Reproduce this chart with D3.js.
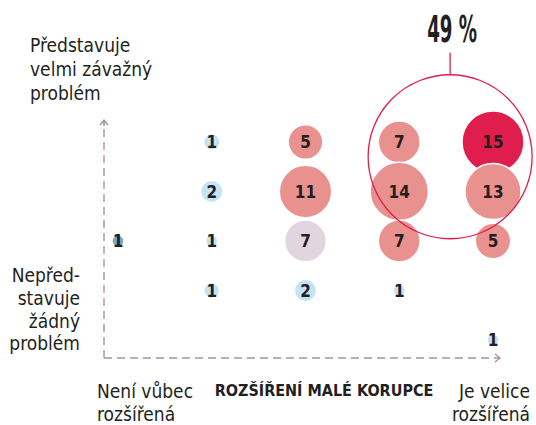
<!DOCTYPE html>
<html>
<head>
<meta charset="utf-8">
<script src="https://cdn.jsdelivr.net/npm/d3@7"></script>
<style>
  body { margin: 0; background: #fff; }
  svg text { font-family: "Liberation Sans Narrow", "DejaVu Sans Condensed", sans-serif; fill: #231f20; }
  .lbl { font-size: 19px; }
  .num { font-size: 17px; font-weight: bold; }
</style>
</head>
<body>
<div id="chart"></div>
<script>
// rozšíření malé korupce (x: 1..5) vs. závažnost problému (y: 1..5)
var spread   = [2, 3, 4, 5,   2, 3, 4, 5,   1, 2, 3, 4, 5,   2, 3, 4,   5];
var severity = [5, 5, 5, 5,   4, 4, 4, 4,   3, 3, 3, 3, 3,   2, 2, 2,   1];
// share in % (labels are rounded)
var shares   = [1.1, 4.8, 7, 15.4,   2, 11, 13.6, 12.6,   0.6, 0.6, 7, 7, 5,   1, 2, 0.6,   0.6];
var tones    = ["blue", "pink", "pink", "red",
                "blue", "pink", "pink", "pink",
                "dark", "blue", "grey", "pink", "pink",
                "blue", "blue", "blue",
                "blue"];
var highlight = "49 %";
var yTopLabel = ["Představuje", "velmi závažný", "problém"];
var yBottomLabel = ["Nepřed-", "stavuje", "žádný", "problém"];
var xLeftLabel = ["Není vůbec", "rozšířená"];
var xRightLabel = ["Je velice", "rozšířená"];
var xTitle = "ROZŠÍŘENÍ MALÉ KORUPCE";

var width = 536, height = 425;
var toneColor = {red: "#e01e4d", pink: "#e8918e", grey: "#e1d6e0", blue: "#c4e3f6", dark: "#7ba7c3"};
var axisColor = "#a8929f";

var svg = d3.select("#chart").append("svg")
    .attr("width", width)
    .attr("height", height);

var x = d3.scaleLinear().domain([1, 5]).range([118, 493]);
var y = d3.scaleLinear().domain([1, 5]).range([340, 142]);
var r = d3.scaleSqrt().domain([0, 1]).range([0, 7.9]);

var data = shares.map(function(s, i) {
    return {x: spread[i], y: severity[i], v: s, tone: tones[i]};
});

// axes: dashed lines with open arrowheads
var x0 = x.range()[0] - 14, y0 = y.range()[0] + 18;
var yEnd = y.range()[1] - 22, xEnd = x.range()[1] + 7;
var axes = svg.append("g").attr("stroke", axisColor).attr("fill", "none").attr("stroke-width", 1.4);
axes.append("line")
    .attr("x1", x0).attr("y1", y0).attr("x2", x0).attr("y2", yEnd)
    .attr("stroke-dasharray", "8,5");
axes.append("line")
    .attr("x1", x0).attr("y1", y0).attr("x2", xEnd).attr("y2", y0)
    .attr("stroke-dasharray", "8,5");
axes.append("path")
    .attr("d", "M" + (x0 - 4) + "," + (yEnd + 5) + "L" + x0 + "," + yEnd + "L" + (x0 + 4) + "," + (yEnd + 5));
axes.append("path")
    .attr("d", "M" + (xEnd - 5) + "," + (y0 - 4) + "L" + xEnd + "," + y0 + "L" + (xEnd - 5) + "," + (y0 + 4));
axes.append("line")
    .attr("x1", x0).attr("y1", yEnd).attr("x2", x0).attr("y2", yEnd + 6);

// bubbles
var g = svg.append("g");
var bubbles = g.selectAll("g.bubble").data(data).enter().append("g")
    .attr("class", "bubble")
    .attr("transform", function(d) { return "translate(" + x(d.x) + "," + y(d.y) + ")"; });
bubbles.append("circle")
    .attr("r", function(d) { return r(d.v); })
    .attr("fill", function(d) { return toneColor[d.tone]; })
    .attr("stroke", "#fff")
    .attr("stroke-width", 1.5);
bubbles.append("text")
    .attr("class", "num")
    .attr("text-anchor", "middle")
    .attr("dy", "0.36em")
    .text(function(d) { return Math.round(d.v); });

// highlight ring round the four top-right bubbles
var ringCx = (x(4) + x(5)) / 2 + 4, ringCy = (y(5) + y(4)) / 2 - 10, ringR = 82;
svg.append("circle")
    .attr("cx", ringCx).attr("cy", ringCy).attr("r", ringR)
    .attr("fill", "none").attr("stroke", toneColor.red).attr("stroke-width", 1.3);
svg.append("line")
    .attr("x1", ringCx).attr("x2", ringCx)
    .attr("y1", ringCy - ringR).attr("y2", ringCy - ringR - 22)
    .attr("stroke", toneColor.red).attr("stroke-width", 1.3);
svg.append("text")
    .attr("x", ringCx + 2).attr("y", 42)
    .attr("text-anchor", "middle")
    .attr("font-size", 38).attr("font-weight", "bold")
    .attr("textLength", 50).attr("lengthAdjust", "spacingAndGlyphs")
    .text(highlight);

// labels
function lines(arr, xPos, yPos, lh, anchor) {
    var t = svg.append("text").attr("class", "lbl").attr("text-anchor", anchor);
    arr.forEach(function(s, i) {
        t.append("tspan").attr("x", xPos).attr("y", yPos + i * lh).text(s);
    });
}
lines(yTopLabel, 30, 52, 24, "start");
lines(yBottomLabel, 80, 282, 22.8, "end");
lines(xLeftLabel, 97, 398, 22.5, "start");
lines(xRightLabel, 530, 398, 22.5, "end");

svg.append("text")
    .attr("x", 324).attr("y", 396)
    .attr("text-anchor", "middle")
    .attr("font-size", 16).attr("font-weight", "bold")
    .text(xTitle);
</script>
</body>
</html>
